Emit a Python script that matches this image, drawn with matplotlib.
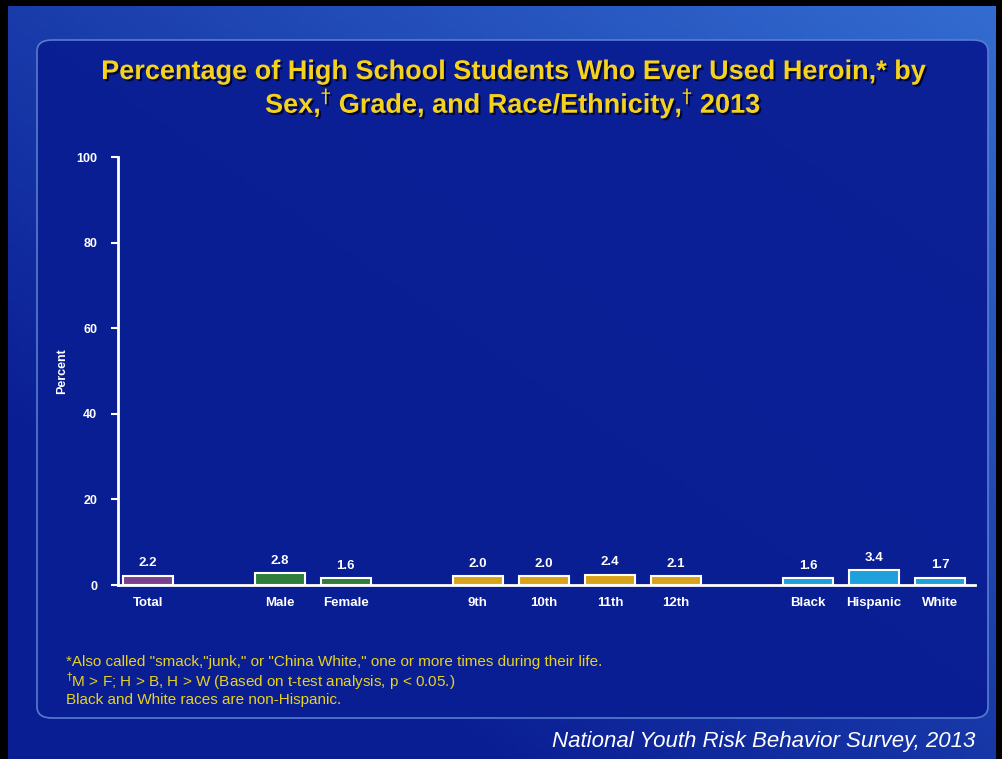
import numpy as np
import matplotlib
matplotlib.use("Agg")
import matplotlib.pyplot as plt
import matplotlib.patheffects as pe
from matplotlib.patches import FancyBboxPatch

plt.rcParams['font.family'] = ['Liberation Sans', 'DejaVu Sans']

# data
groups = [["Total"], ["Male", "Female"], ["9th", "10th", "11th", "12th"], ["Black", "Hispanic", "White"]]
values = [[2.2], [2.8, 1.6], [2.0, 2.0, 2.4, 2.1], [1.6, 3.4, 1.7]]
group_colors = ["#7b3f8f", "#2e7d3a", "#d9a21b", "#1ea0dc"]
yticks = [0, 20, 40, 60, 80, 100]

title = ("Percentage of High School Students Who Ever Used Heroin,* by\n"
         "Sex,$^{\\dag}$ Grade, and Race/Ethnicity,$^{\\dag}$ 2013")
notes = ["*Also called \"smack,\"junk,\" or \"China White,\" one or more times during their life.",
         "$^{\\dag}$M > F; H > B, H > W (Based on t-test analysis, p < 0.05.)",
         "Black and White races are non-Hispanic."]
source = "National Youth Risk Behavior Survey, 2013"

W, H = 1003, 759
fig = plt.figure(figsize=(W / 100, H / 100), dpi=100)
fig.patch.set_facecolor("black")

# background gradient
bg = fig.add_axes([0.008, 0.0, 0.985, 0.992])
yy, xx = np.mgrid[0:1:200j, 0:1:300j]
t = np.clip(0.5 * xx + 0.55 * (1 - yy) - 0.25, 0, 1)
c0 = np.array([0.04, 0.12, 0.58])
c1 = np.array([0.24, 0.50, 0.88])
img = c0[None, None, :] * (1 - t[..., None]) + c1[None, None, :] * t[..., None]
bg.imshow(img, extent=[0, 1, 0, 1], aspect="auto", origin="upper")
bg.set_xlim(0, 1)
bg.set_ylim(0, 1)
bg.axis("off")

# rounded panel
panel = FancyBboxPatch((37 / W, 1 - 718 / H), (988 - 37) / W, (718 - 40) / H,
                       boxstyle="round,pad=0,rounding_size=0.015",
                       transform=fig.transFigure, facecolor="#0a1e94",
                       edgecolor="#5a7fd0", linewidth=1.2, alpha=0.97, zorder=1)
fig.patches.append(panel)

fig.text(0.512, 1 - 90 / H, title, ha="center", va="center", color="#f5d21e",
         fontsize=19.5, fontweight="bold", linespacing=1.05, zorder=3,
         path_effects=[pe.withSimplePatchShadow(offset=(1.5, -1.5), shadow_rgbFace="#000022", alpha=0.8)])

# chart axes
left_px, right_px, top_px, bottom_px = 118, 975, 157, 585
ax = fig.add_axes([left_px / W, 1 - bottom_px / H, (right_px - left_px) / W, (bottom_px - top_px) / H])
ax.patch.set_alpha(0)
ax.set_zorder(3)

pos = 0
for names, vals, col in zip(groups, values, group_colors):
    xs = np.arange(pos, pos + len(names))
    ax.bar(xs, vals, width=0.76, color=col, edgecolor="white", linewidth=1.5)
    for x, v, n in zip(xs, vals, names):
        ax.text(x, v + 1.5, f"{v:.1f}", ha="center", va="bottom", color="white",
                fontsize=9.5, fontweight="bold")
        ax.text(x, -2.8, n, ha="center", va="top", color="white",
                fontsize=9.5, fontweight="bold")
    pos += len(names) + 1

ax.set_xlim(-0.45, pos - 1.47)
ax.set_ylim(0, 100)
ax.set_yticks(yticks)
ax.set_yticklabels([str(v) for v in yticks], color="white", fontsize=9, fontweight="bold")
ax.set_xticks([])
ax.tick_params(axis="y", colors="white", length=5, width=1.5, pad=10)
for s in ["top", "right"]:
    ax.spines[s].set_visible(False)
for s in ["left", "bottom"]:
    ax.spines[s].set_color("white")
    ax.spines[s].set_linewidth(2)
ax.set_ylabel("Percent", color="white", fontsize=9, fontweight="bold", labelpad=6)

for i, line in enumerate(notes):
    fig.text(66 / W, 1 - (662 + i * 19) / H, line, color="#e8d21e", fontsize=11,
             ha="left", va="center", zorder=3)

fig.text(975 / W, 1 - 742 / H, source, color="white", fontsize=16, style="italic",
         ha="right", va="center", zorder=3)

fig.savefig("out.png", dpi=100, facecolor=fig.get_facecolor())
